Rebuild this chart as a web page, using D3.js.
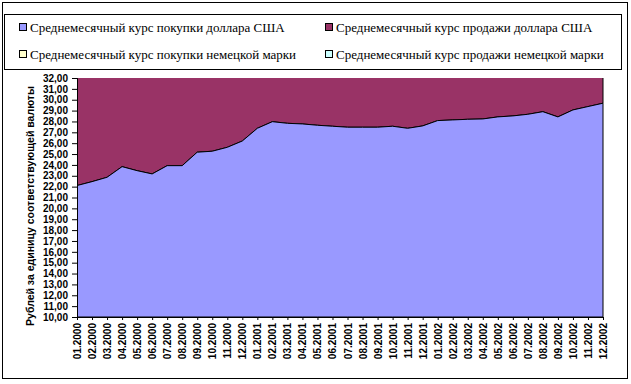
<!DOCTYPE html>
<html>
<head>
<meta charset="utf-8">
<script src="https://cdn.jsdelivr.net/npm/d3@7"></script>
<style>
  body { margin: 0; background: #fff; }
</style>
</head>
<body>
<div id="chart"></div>
<script>
// months on the category axis
const months = [
  "01.2000","02.2000","03.2000","04.2000","05.2000","06.2000","07.2000","08.2000","09.2000","10.2000","11.2000","12.2000",
  "01.2001","02.2001","03.2001","04.2001","05.2001","06.2001","07.2001","08.2001","09.2001","10.2001","11.2001","12.2001",
  "01.2002","02.2002","03.2002","04.2002","05.2002","06.2002","07.2002","08.2002","09.2002","10.2002","11.2002","12.2002"
];
// average monthly USD purchase rate
const usdBuy = [
  22.10, 22.46, 22.86, 23.84, 23.47, 23.17, 23.93, 23.93, 25.17, 25.26, 25.62, 26.20,
  27.37, 27.98, 27.83, 27.77, 27.65, 27.56, 27.47, 27.47, 27.47, 27.56, 27.37, 27.59,
  28.08, 28.14, 28.20, 28.23, 28.42, 28.51, 28.66, 28.90, 28.42, 29.06, 29.37, 29.68
];
// average monthly USD sale rate (stacked on top, runs past the axis max)
const usdSell = [
  22.45, 22.80, 23.20, 24.15, 23.80, 23.50, 24.25, 24.25, 25.45, 25.55, 25.90, 26.50,
  27.65, 28.25, 28.10, 28.05, 27.95, 27.85, 27.75, 27.75, 27.75, 27.85, 27.65, 27.85,
  28.35, 28.40, 28.45, 28.50, 28.70, 28.80, 28.95, 29.20, 28.75, 29.35, 29.65, 29.95
];
const yTicks = d3.range(10, 33, 1);
const legendLabels = [
  "Среднемесячный курс покупки доллара США",
  "Среднемесячный курс продажи доллара США",
  "Среднемесячный курс покупки немецкой марки",
  "Среднемесячный курс продажи немецкой марки"
];
const legendColors = ["#9999ff", "#993366", "#ffffcc", "#ccffff"];

const W = 631, H = 384;
const plot = { left: 77, right: 603, top: 78, bottom: 317 };

const svg = d3.select("#chart").append("svg")
  .attr("width", W).attr("height", H)
  .style("font-family", "'Liberation Sans', Arial, sans-serif");

// outer frame
svg.append("rect")
  .attr("x", 2.5).attr("y", 2.5).attr("width", 625).attr("height", 376)
  .attr("fill", "#fff").attr("stroke", "#000");

// legend box
svg.append("rect")
  .attr("x", 4.5).attr("y", 14.5).attr("width", 617).attr("height", 55)
  .attr("fill", "#fff").attr("stroke", "#000");

const legendPos = [[19, 28], [325, 28], [19, 55], [325, 55]];
const legend = svg.selectAll("g.leg")
  .data(legendLabels)
  .join("g")
    .attr("class", "leg")
    .attr("transform", (d, i) => `translate(${legendPos[i][0]},${legendPos[i][1]})`);
legend.append("rect")
  .attr("x", 0.5).attr("y", -4.5).attr("width", 7).attr("height", 7)
  .attr("fill", (d, i) => legendColors[i]).attr("stroke", "#000");
legend.append("text")
  .text(d => d)
  .attr("x", 11).attr("y", 4)
  .style("font-family", "'Liberation Serif', 'Times New Roman', serif")
  .style("font-size", "13px");

// scales
const x = d3.scalePoint().domain(months).range([plot.left, plot.right]);
const y = d3.scaleLinear().domain([10, 32]).range([plot.bottom, plot.top]);

const rows = months.map((m, i) => ({ m, buy: usdBuy[i], sell: usdSell[i] }));
const stack = d3.stack().keys(["buy", "sell"]);
const series = stack(rows);

svg.append("clipPath").attr("id", "clip")
  .append("rect")
    .attr("x", plot.left).attr("y", plot.top)
    .attr("width", plot.right - plot.left + 1).attr("height", plot.bottom - plot.top);

const area = d3.area()
  .x(d => x(d.data.m))
  .y0(d => y(Math.max(10, d[0])))
  .y1(d => y(d[1]));

svg.append("g").attr("clip-path", "url(#clip)")
  .selectAll("path")
  .data(series.slice().reverse())
  .join("path")
    .attr("d", area)
    .attr("fill", d => d.key === "buy" ? legendColors[0] : legendColors[1])
    .attr("stroke", "#000")
    .attr("stroke-width", 1);

// y axis
const yAxis = svg.append("g")
  .attr("transform", `translate(${plot.left},0)`)
  .call(d3.axisLeft(y).tickValues(yTicks).tickSize(5).tickPadding(4)
    .tickFormat(d => d3.format(".2f")(d).replace(".", ",")));
yAxis.select(".domain").attr("stroke", "#000");
yAxis.selectAll("text")
  .style("font-size", "10px").style("font-weight", "bold").attr("fill", "#000");

// x axis
const xAxis = svg.append("g")
  .attr("transform", `translate(0,${plot.bottom})`)
  .call(d3.axisBottom(x).tickSize(3).tickSizeOuter(0));
xAxis.select(".domain").attr("stroke", "#000");
xAxis.selectAll("text")
  .attr("transform", "rotate(-90)")
  .attr("text-anchor", "end")
  .attr("x", -6).attr("y", 0).attr("dy", "0.35em")
  .style("font-size", "10px").style("font-weight", "bold").attr("fill", "#000");

// y title
svg.append("text")
  .text("Рублей за единицу соответствующей валюты")
  .attr("transform", "translate(34,206) rotate(-90)")
  .attr("text-anchor", "middle")
  .style("font-size", "10.5px").style("font-weight", "bold");
</script>
</body>
</html>
